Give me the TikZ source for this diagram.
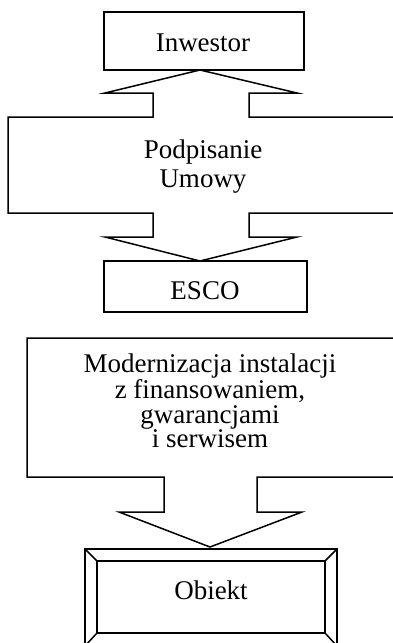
\documentclass[tikz,border=0pt]{standalone}
\usepackage{fontspec}
\setmainfont{Liberation Serif}
\begin{document}
\begin{tikzpicture}[x=1pt,y=-1pt,
  line/.style={draw=black,line width=1.5pt,line join=miter},
  txt/.style={font=\fontsize{27}{24.5}\selectfont,align=center,inner sep=0pt}]
\useasboundingbox (0,0) rectangle (393,643);
% Inwestor
\draw[line] (104,12) rectangle (304,70);
\node[txt] (inw) at (203,43) {Inwestor};
% double arrow shape with big box
\draw[line] (200,70) -- (297,93) -- (249,93) -- (249,117) -- (398,117)
  -- (398,213) -- (249,213) -- (249,237) -- (297,237) -- (200,261)
  -- (105,237) -- (153,237) -- (153,213) -- (8,213) -- (8,117)
  -- (153,117) -- (153,93) -- (105,93) -- cycle;
\node[txt,font=\fontsize{27}{29}\selectfont] (pod) at (203,167) {Podpisanie\\Umowy};
% ESCO
\draw[line] (104,261) rectangle (307,312);
\node[txt] (esco) at (205,291) {ESCO};
% Modernizacja box with down arrow
\draw[line] (27,338) -- (398,338) -- (398,477) -- (257,477) -- (257,512)
  -- (302,512) -- (210,547) -- (119,512) -- (164,512) -- (164,477)
  -- (27,477) -- cycle;
\node[txt] (mod) at (210,401) {Modernizacja instalacji\\z finansowaniem,\\gwarancjami\\i serwisem};
% Obiekt bevel box
\draw[line] (85,549) rectangle (337,646);
\draw[line] (97,561) rectangle (325,633);
\draw[line] (85,549) -- (97,561);
\draw[line] (337,549) -- (325,561);
\draw[line] (85,646) -- (97,633);
\draw[line] (337,646) -- (325,633);
\node[txt] (obj) at (211,590) {Obiekt};
\end{tikzpicture}
\end{document}
